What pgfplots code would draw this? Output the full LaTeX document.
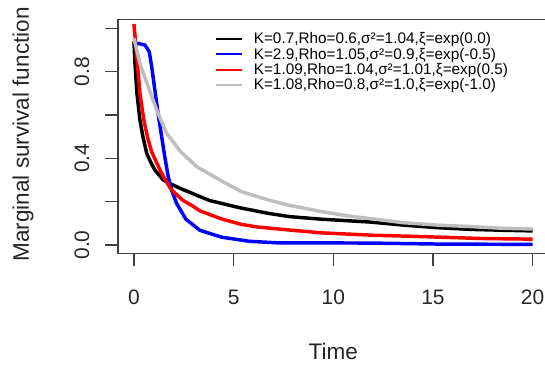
\documentclass[border=0pt]{standalone}
\usepackage{fontspec}
\setmainfont{Liberation Sans}
\usepackage{pgfplots}
\pgfplotsset{compat=1.18}
\definecolor{rgray}{HTML}{BEBEBE}
\definecolor{rblue}{HTML}{0000FF}
\definecolor{rred}{HTML}{FF0000}
\begin{document}
\begin{tikzpicture}
\begin{axis}[name=ax, scale only axis, width=322.9pt, height=175.5pt,
  xmin=-0.8, xmax=20.8, ymin=-0.0385, ymax=1.0415,
  axis line style={line width=1.2pt, color=black!75},
  tick pos=left, tick align=outside, major tick length=9.75pt,
  tick style={line width=1.1pt, color=black!75},
  xtick={0,5,10,15,20}, xticklabels={0,5,10,15,20},
  ytick={0,0.2,0.4,0.6,0.8,1}, yticklabels={0.0,,0.4,,0.8,},
  /pgf/number format/assume math mode=true,
  ticklabel style={font=\fontsize{15.7}{18}\selectfont, color=black!85},
  xticklabel style={yshift=-14pt},
  yticklabel style={xshift=-8.3pt, rotate=90, anchor=south},
  xlabel={Time}, ylabel={Marginal survival function},
  label style={font=\fontsize{16.9}{19}\selectfont, color=black!85},
  xlabel style={at={(rel axis cs:0.5,0)}, anchor=center, yshift=-73.8pt},
  ylabel style={at={(rel axis cs:0,0.508)}, anchor=center, yshift=71.25pt},
  legend style={at={(rel axis cs:0.225,0.955)}, anchor=north west, draw=none, fill=none,
    inner sep=0pt, font=\fontsize{11.5}{13}\selectfont, column sep=6pt, row sep=-2.5pt,
    cells={anchor=west}},
  legend image code/.code={\draw[#1, line width=1.5pt] (0pt,0pt) -- (19.5pt,0pt);},
  every axis plot/.append style={line width=2.6pt, line join=round}
]
\addplot[color=black] coordinates {(0,0.94)(0.05,0.84)(0.15,0.70)(0.3,0.577)(0.45,0.50)(0.64,0.423)(0.85,0.38)(1.05,0.346)(1.47,0.30)(1.89,0.280)(2.3,0.262)(2.9,0.239)(3.8,0.205)(4.4,0.192)(5.3,0.172)(6.74,0.146)(7.8,0.131)(9.4,0.119)(11.84,0.106)(13.5,0.092)(15.2,0.080)(16.9,0.072)(18.5,0.068)(20,0.065)};
\addlegendentry{K=0.7,Rho=0.6,σ²=1.04,ξ=exp(0.0)}
\addplot[color=rblue] coordinates {(0,0.93)(0.22,0.93)(0.55,0.923)(0.77,0.892)(0.89,0.823)(1.05,0.715)(1.22,0.60)(1.39,0.50)(1.56,0.40)(1.72,0.315)(1.9,0.25)(2.14,0.192)(2.6,0.12)(3.3,0.068)(4.4,0.036)(5.8,0.017)(7.2,0.010)(11.8,0.009)(15.5,0.004)(20,0.003)};
\addlegendentry{K=2.9,Rho=1.05,σ²=0.9,ξ=exp(-0.5)}
\addplot[color=rred] coordinates {(0,1.02)(0.13,0.885)(0.3,0.70)(0.5,0.575)(0.7,0.49)(0.89,0.43)(1.35,0.338)(1.8,0.265)(2.06,0.239)(2.47,0.205)(2.9,0.183)(3.3,0.158)(4.4,0.12)(5.4,0.095)(6.2,0.083)(7.8,0.069)(9.42,0.056)(12,0.045)(14,0.040)(17.4,0.030)(20,0.027)};
\addlegendentry{K=1.09,Rho=1.04,σ²=1.01,ξ=exp(0.5)}
\addplot[color=rgray] coordinates {(0,0.954)(0.3,0.838)(0.72,0.73)(1.14,0.623)(1.64,0.515)(2.35,0.43)(3.15,0.361)(3.73,0.331)(4.5,0.290)(5.4,0.246)(6.2,0.223)(6.74,0.208)(7.8,0.183)(9.42,0.154)(10.75,0.134)(12.1,0.119)(13.5,0.103)(15.2,0.092)(16.9,0.085)(18.5,0.077)(20,0.074)};
\addlegendentry{K=1.08,Rho=0.8,σ²=1.0,ξ=exp(-1.0)}
\end{axis}
\draw[line width=1.2pt, black!75] (ax.north west) -- (ax.south west);
\pgfresetboundingbox
\path[use as bounding box] ([shift={(-88.5pt,-85.3pt)}]ax.south west) rectangle ([shift={(320.25pt,190pt)}]ax.south west);
\end{tikzpicture}
\end{document}
